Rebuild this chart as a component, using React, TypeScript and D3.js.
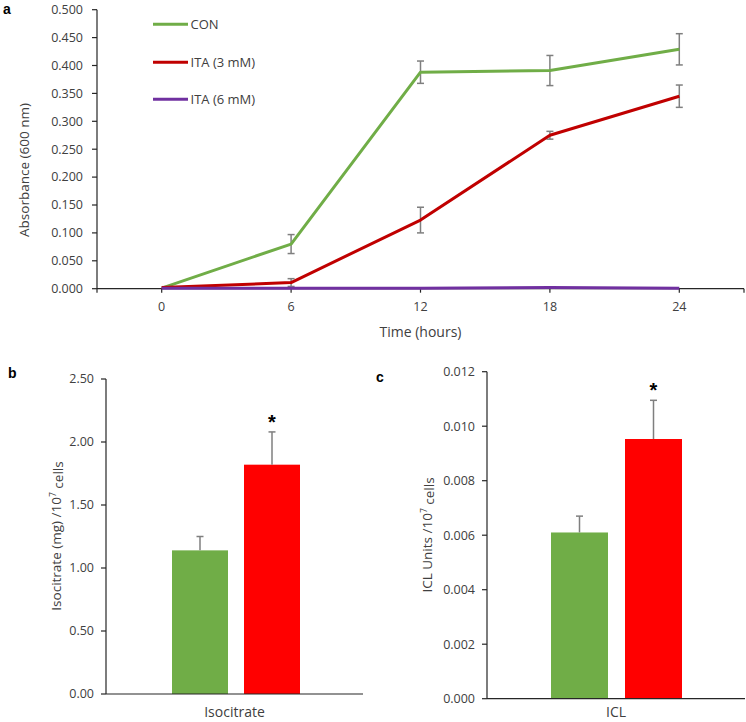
import React from "react";
import * as d3 from "d3";

// ---- Panel a data ----
const timePoints = ["0", "6", "12", "18", "24"];
const conMean = [0.001, 0.08, 0.388, 0.391, 0.429];
const conErr = [0.0, 0.017, 0.02, 0.027, 0.028];
const ita3Mean = [0.002, 0.011, 0.123, 0.275, 0.345];
const ita3Err = [0.0, 0.007, 0.023, 0.007, 0.02];
const ita6Mean = [0.001, 0.001, 0.001, 0.002, 0.001];
const ita6Err = [0, 0, 0, 0, 0];
const absTicks = [0, 0.05, 0.1, 0.15, 0.2, 0.25, 0.3, 0.35, 0.4, 0.45, 0.5];
const seriesNames = ["CON", "ITA (3 mM)", "ITA (6 mM)"];

// ---- Panel b data ----
const isoGroups = ["CON", "ITA"];
const isoMean = [1.14, 1.82];
const isoErr = [0.11, 0.26];
const isoTicks = [0, 0.5, 1.0, 1.5, 2.0, 2.5];

// ---- Panel c data ----
const iclMean = [0.0061, 0.00953];
const iclErr = [0.0006, 0.00142];
const iclTicks = [0, 0.002, 0.004, 0.006, 0.008, 0.01, 0.012];

const lineColors = ["#70AD47", "#C00000", "#7030A0"];
const barColors = ["#70AD47", "#FF0000"];
const errColor = "#7F7F7F";
const axisColor = "#262626";
const textColor = "#404040";
const FONT = "'Open Sans', 'Liberation Sans', sans-serif";

function LinePanel() {
  const left = 97, right = 744, top = 9.7, bottom = 288.7;
  const x = d3.scalePoint<string>().domain(timePoints).range([left, right]).padding(0.5);
  const y = d3.scaleLinear().domain([0, 0.5]).range([bottom, top]);
  const line = d3.line<number>().x((_, i) => x(timePoints[i])!).y((d) => y(d));
  const series = [
    { name: seriesNames[0], mean: conMean, err: conErr },
    { name: seriesNames[1], mean: ita3Mean, err: ita3Err },
    { name: seriesNames[2], mean: ita6Mean, err: ita6Err },
  ];
  const legendY = [24.3, 62.3, 99.3];
  return (
    <g>
      <text x={3} y={14} fontFamily="'Liberation Sans', Arial, sans-serif" fontWeight="bold" fontSize={14} fill="#000">a</text>
      {/* y axis */}
      <line x1={left} x2={left} y1={top} y2={bottom} stroke={axisColor} strokeWidth={1.2} />
      {absTicks.map((t) => (
        <g key={t}>
          <line x1={left - 5} x2={left} y1={y(t)} y2={y(t)} stroke={axisColor} strokeWidth={1.2} />
          <text x={left - 14} y={y(t)} dy="0.35em" textAnchor="end" fontFamily={FONT} fontSize={12.5} fill={textColor}>
            {t.toFixed(3)}
          </text>
        </g>
      ))}
      <text transform={`translate(24,170) rotate(-90)`} textAnchor="middle" dy="0.35em" fontFamily={FONT} fontSize={13.5} fill={textColor}>
        Absorbance (600 nm)
      </text>
      {/* x axis */}
      <line x1={left} x2={right} y1={bottom} y2={bottom} stroke={axisColor} strokeWidth={1.2} />
      {[left, ...timePoints.map((t) => x(t)!), right].map((px, i) => (
        <line key={i} x1={px} x2={px} y1={bottom} y2={bottom + 4} stroke={axisColor} strokeWidth={1.2} />
      ))}
      {timePoints.map((t) => (
        <text key={t} x={x(t)!} y={307} dy="0.35em" textAnchor="middle" fontFamily={FONT} fontSize={12.5} fill={textColor}>
          {t}
        </text>
      ))}
      <text x={(left + right) / 2} y={332} dy="0.35em" textAnchor="middle" fontFamily={FONT} fontSize={14} fill={textColor}>
        Time (hours)
      </text>
      {/* error bars */}
      {series.map((s, si) =>
        s.mean.map((m, i) =>
          s.err[i] > 0 ? (
            <g key={`${si}-${i}`} stroke={errColor} strokeWidth={1.5}>
              <line x1={x(timePoints[i])!} x2={x(timePoints[i])!} y1={y(m + s.err[i])} y2={y(m - s.err[i])} />
              <line x1={x(timePoints[i])! - 3.5} x2={x(timePoints[i])! + 3.5} y1={y(m + s.err[i])} y2={y(m + s.err[i])} />
              <line x1={x(timePoints[i])! - 3.5} x2={x(timePoints[i])! + 3.5} y1={y(m - s.err[i])} y2={y(m - s.err[i])} />
            </g>
          ) : null
        )
      )}
      {/* lines */}
      {series.map((s, si) => (
        <path key={s.name} d={line(s.mean)!} fill="none" stroke={lineColors[si]} strokeWidth={3} strokeLinejoin="round" />
      ))}
      {/* legend */}
      {series.map((s, si) => (
        <g key={s.name}>
          <line x1={153} x2={188} y1={legendY[si]} y2={legendY[si]} stroke={lineColors[si]} strokeWidth={3} />
          <text x={190.5} y={legendY[si]} dy="0.35em" fontFamily={FONT} fontSize={13} fill={textColor}>
            {s.name}
          </text>
        </g>
      ))}
    </g>
  );
}

type BarProps = {
  letter: string;
  letterX: number;
  letterY: number;
  left: number;
  right: number;
  top: number;
  bottom: number;
  max: number;
  ticks: number[];
  decimals: number;
  means: number[];
  errs: number[];
  category: string;
  titleMain: string;
  titleX: number;
  titleY: number;
  barLefts: number[];
  barWidth: number;
};

function BarPanel(p: BarProps) {
  const y = d3.scaleLinear().domain([0, p.max]).range([p.bottom, p.top]);
  const x = d3
    .scaleBand<string>()
    .domain(isoGroups)
    .range([p.barLefts[0], p.barLefts[1] + p.barWidth])
    .paddingInner((p.barLefts[1] - p.barLefts[0] - p.barWidth) / (p.barLefts[1] - p.barLefts[0]));
  return (
    <g>
      <text x={p.letterX} y={p.letterY} dy="0.35em" fontFamily="'Liberation Sans', Arial, sans-serif" fontWeight="bold" fontSize={14} fill="#000">
        {p.letter}
      </text>
      {isoGroups.map((g, i) => {
        const bx = x(g)!;
        const bw = x.bandwidth();
        const cx = bx + bw / 2;
        const yt = y(p.means[i]);
        const ye = y(p.means[i] + p.errs[i]);
        return (
          <g key={g}>
            <rect x={bx} y={yt} width={bw} height={p.bottom - yt} fill={barColors[i]} />
            <line x1={cx} x2={cx} y1={yt} y2={ye} stroke={errColor} strokeWidth={1.5} />
            <line x1={cx - 3.5} x2={cx + 3.5} y1={ye} y2={ye} stroke={errColor} strokeWidth={1.5} />
            {i === 1 ? (
              <text x={cx} y={ye - 15} dy="0.6em" textAnchor="middle" fontFamily="'Liberation Sans', Arial, sans-serif" fontWeight="bold" fontSize={20} fill="#000">
                *
              </text>
            ) : null}
          </g>
        );
      })}
      <line x1={p.left} x2={p.left} y1={p.top} y2={p.bottom} stroke={axisColor} strokeWidth={1.2} />
      <line x1={p.left} x2={p.right} y1={p.bottom} y2={p.bottom} stroke={axisColor} strokeWidth={1.2} />
      {p.ticks.map((t) => (
        <g key={t}>
          <line x1={p.left - 5} x2={p.left} y1={y(t)} y2={y(t)} stroke={axisColor} strokeWidth={1.2} />
          <text x={p.left - 12} y={y(t)} dy="0.35em" textAnchor="end" fontFamily={FONT} fontSize={12.5} fill={textColor}>
            {t.toFixed(p.decimals)}
          </text>
        </g>
      ))}
      <text x={(p.left + p.right) / 2} y={712} dy="0.35em" textAnchor="middle" fontFamily={FONT} fontSize={14} fill={textColor}>
        {p.category}
      </text>
      <text transform={`translate(${p.titleX},${p.titleY}) rotate(-90)`} textAnchor="middle" dy="0.35em" fontFamily={FONT} fontSize={13.5} fill={textColor}>
        {p.titleMain}
        <tspan fontSize={8.5} dy="-0.55em">7</tspan>
        <tspan dy="0.55em"> cells</tspan>
      </text>
    </g>
  );
}

export default function App() {
  return (
    <svg width={746} height={722} style={{ position: "absolute", left: 0, top: 0, background: "#fff" }}>
      <rect x={0} y={0} width={746} height={722} fill="#fff" />
      <LinePanel />
      <BarPanel
        letter="b"
        letterX={8}
        letterY={373}
        left={106}
        right={363}
        top={379}
        bottom={694}
        max={2.5}
        ticks={isoTicks}
        decimals={2}
        means={isoMean}
        errs={isoErr}
        category="Isocitrate"
        titleMain="Isocitrate (mg) /10"
        titleX={56}
        titleY={536}
        barLefts={[172, 244]}
        barWidth={56}
      />
      <BarPanel
        letter="c"
        letterX={376}
        letterY={377}
        left={487}
        right={745}
        top={371.7}
        bottom={698.7}
        max={0.012}
        ticks={iclTicks}
        decimals={3}
        means={iclMean}
        errs={iclErr}
        category="ICL"
        titleMain="ICL Units /10"
        titleX={427}
        titleY={535}
        barLefts={[551, 625]}
        barWidth={57}
      />
    </svg>
  );
}
